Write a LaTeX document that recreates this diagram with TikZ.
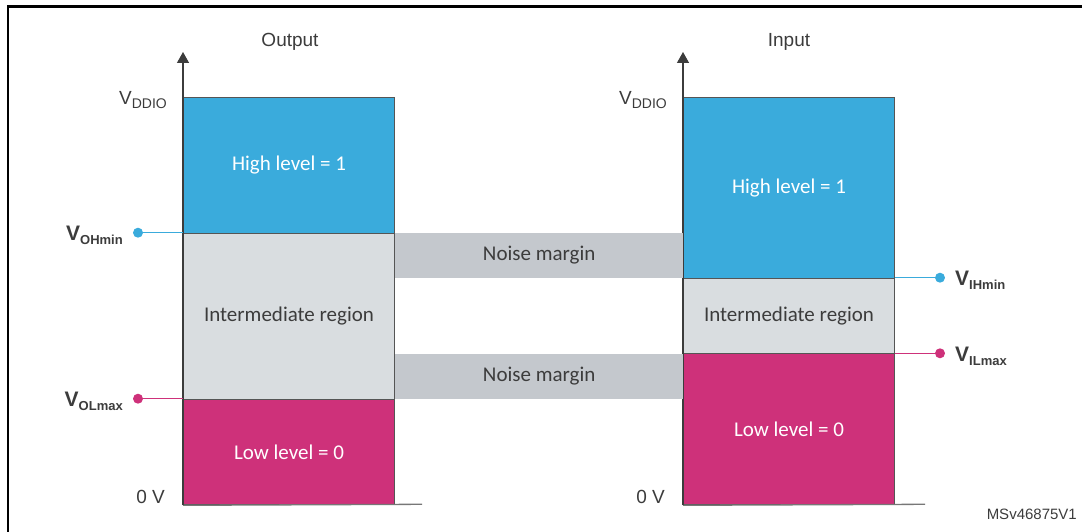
\documentclass[tikz,border=0pt]{standalone}
\usepackage{fontspec}
\setmainfont{Liberation Sans}
\newfontfamily\boxfont{Carlito}
\usetikzlibrary{arrows.meta}
\definecolor{hiblue}{HTML}{3AABDC}
\definecolor{lomag}{HTML}{CE317A}
\definecolor{midgray}{HTML}{D9DDE0}
\definecolor{nmgray}{HTML}{C4C8CD}
\definecolor{txtdark}{HTML}{3C3C3C}
\definecolor{edgegray}{HTML}{555555}
\tikzset{
  region/.style={draw=edgegray, line width=1pt, anchor=north west, inner sep=0pt,
    minimum width=211pt, font=\boxfont\fontsize{21}{24}\selectfont},
  hireg/.style={region, fill=hiblue, text=white},
  midreg/.style={region, fill=midgray, text=txtdark},
  loreg/.style={region, fill=lomag, text=white},
  noise/.style={fill=nmgray, anchor=north west, inner sep=0pt, minimum width=288pt,
    text=txtdark, font=\boxfont\fontsize{21}{24}\selectfont},
  axisline/.style={draw=txtdark, line width=1.3pt},
  baseline/.style={draw=edgegray!80, line width=1.3pt},
  lbl/.style={text=txtdark, font=\fontsize{19}{22}\selectfont, inner sep=0pt},
  vlbl/.style={text=txtdark, inner sep=0pt},
  dot/.style={circle, inner sep=0pt, minimum size=10pt},
  lead/.style={line width=1.5pt},
}
\newcommand{\vsub}[1]{{\fontsize{21}{22}\selectfont\bfseries V}\raisebox{-4pt}{\fontsize{13}{15}\selectfont\bfseries #1}}
\newcommand{\vdd}{{\fontsize{19}{22}\selectfont V}\raisebox{-4pt}{\fontsize{14}{16}\selectfont DDIO}}
\begin{document}
\begin{tikzpicture}[x=1pt,y=-1pt]
\useasboundingbox (0,0) rectangle (1082,532);
% frame (cropped)
\draw[line width=2.2pt] (8,532) -- (8,6.5) -- (1082,6.5);

% ---- Output column ----
\node[hireg, minimum height=136pt] (ohigh) at (183,96.7) {High level = 1};
\node[midreg, minimum height=166pt] (omid) at (183,232.7) {Intermediate region};
\node[loreg, minimum height=105.6pt] (olow) at (183,398.7) {Low level = 0};
\coordinate (oend) at (422,504.3);
\draw[baseline] (olow.south west) -- (oend);
\node[lbl, anchor=base] (outlbl) at (290,47) {Output};
\coordinate (otop) at (183,52);
\draw[axisline, -{Triangle[width=12pt,length=11pt]}] (olow.south west) -- (otop);
\node[vlbl, anchor=base east] (ovdd) at (167,105) {\vdd};
\node[lbl, anchor=base east] (o0v) at (165,503) {0 V};

% ---- Input column ----
\node[hireg, minimum height=181pt] (ihigh) at (683,96.7) {High level = 1};
\node[midreg, minimum height=75.6pt] (imid) at (683,277.7) {Intermediate region};
\node[loreg, minimum height=151pt] (ilow) at (683,353.3) {Low level = 0};
\coordinate (iend) at (925,504.3);
\draw[baseline] (ilow.south west) -- (iend);
\node[lbl, anchor=base] (inlbl) at (789,47) {Input};
\coordinate (itop) at (683,52);
\draw[axisline, -{Triangle[width=12pt,length=11pt]}] (ilow.south west) -- (itop);
\node[vlbl, anchor=base east] (ivdd) at (667,105) {\vdd};
\node[lbl, anchor=base east] (i0v) at (665,503) {0 V};

% ---- Noise margins ----
\node[noise, minimum height=45pt] (nm1) at (395,232.7) {Noise margin};
\node[noise, minimum height=45.4pt] (nm2) at (395,353.3) {Noise margin};

% ---- Threshold markers ----
\node[dot, fill=hiblue] (dohmin) at (138,232.7) {};
\draw[lead, draw=hiblue] (dohmin) -- (omid.north west);
\node[vlbl, anchor=base east] (vohmin) at (123,240) {\vsub{OHmin}};

\node[dot, fill=lomag] (dolmax) at (138,398.7) {};
\draw[lead, draw=lomag] (dolmax) -- (olow.north west);
\node[vlbl, anchor=base east] (volmax) at (123,406) {\vsub{OLmax}};

\node[dot, fill=hiblue] (dihmin) at (940,277.7) {};
\draw[lead, draw=hiblue] (imid.north east) -- (dihmin);
\node[vlbl, anchor=base west] (vihmin) at (955,285) {\vsub{IHmin}};

\node[dot, fill=lomag] (dilmax) at (940,353.3) {};
\draw[lead, draw=lomag] (ilow.north east) -- (dilmax);
\node[vlbl, anchor=base west] (vilmax) at (955,361) {\vsub{ILmax}};

\node[lbl, anchor=base east, font=\fontsize{15}{18}\selectfont] (ref) at (1077,519) {MSv46875V1};
\end{tikzpicture}
\end{document}
